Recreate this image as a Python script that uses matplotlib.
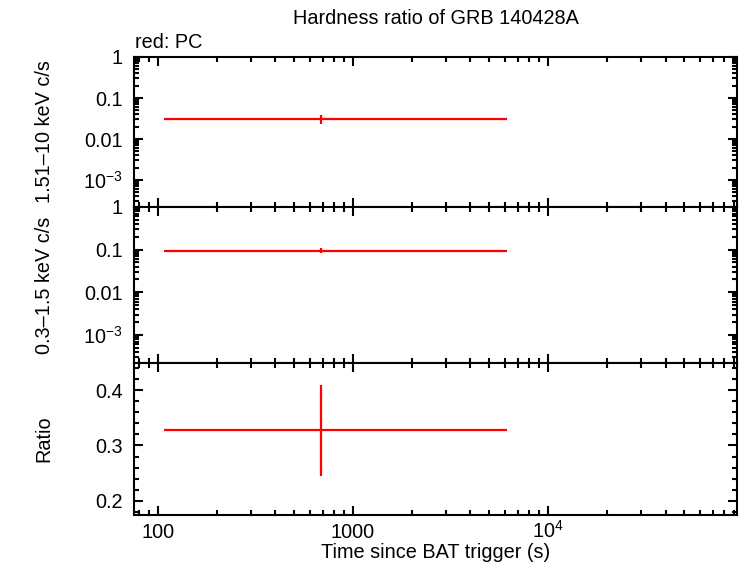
import matplotlib
matplotlib.use("Agg")
import matplotlib.pyplot as plt
from matplotlib.ticker import FixedLocator, NullFormatter, LogLocator
import numpy as np

plt.rcParams['font.family'] = ['Liberation Sans', 'DejaVu Sans']
plt.rcParams['mathtext.fontset'] = 'custom'
plt.rcParams['mathtext.rm'] = 'Liberation Sans'
plt.rcParams['mathtext.it'] = 'Liberation Sans'

# Data
t_center = [686.0]
t_lo = [107.0]
t_hi = [6140.0]
hard_rate = [0.0308]
hard_lo = [0.023]
hard_hi = [0.039]
soft_rate = [0.095]
soft_lo = [0.082]
soft_hi = [0.108]
ratio = [0.328]
ratio_lo = [0.244]
ratio_hi = [0.409]

title = "Hardness ratio of GRB 140428A"
xlabel = "Time since BAT trigger (s)"
ylabels = ["1.51\u201310 keV c/s", "0.3\u20131.5 keV c/s", "Ratio"]
xticks = [100, 1000, 10000]
xticklabels = ["100", "1000", r"$10^{4}$"]
log_yticks = [1, 0.1, 0.01, 0.001]
log_yticklabels = ["1", "0.1", "0.01", r"$10^{-3}$"]
ratio_yticks = [0.2, 0.3, 0.4]
ratio_yticklabels = ["0.2", "0.3", "0.4"]

W, H = 742, 566
fig = plt.figure(figsize=(W / 100, H / 100), dpi=100)

left = 134 / W
right = 737 / W
def ax_rect(top_px, bot_px):
    return [left, 1 - bot_px / H, right - left, (bot_px - top_px) / H]

ax1 = fig.add_axes(ax_rect(57, 207))
ax2 = fig.add_axes(ax_rect(207, 363))
ax3 = fig.add_axes(ax_rect(363, 514.7))

xmin, xmax = 75.4, 93000
red = '#ff0000'
fs = 14.3

def style(ax):
    ax.set_xscale('log')
    ax.set_xlim(xmin, xmax)
    for s in ax.spines.values():
        s.set_linewidth(1.5)
    ax.tick_params(which='both', direction='in', top=True, right=True,
                   width=1.5, labelsize=fs, pad=8)
    ax.tick_params(which='major', length=6.5)
    ax.tick_params(which='minor', length=3.6)
    ax.xaxis.set_major_locator(FixedLocator(xticks))
    ax.xaxis.set_minor_locator(LogLocator(base=10, subs=np.arange(2, 10), numticks=20))
    ax.xaxis.set_minor_formatter(NullFormatter())

def plot_series(ax, y, ylo, yhi):
    x = np.array(t_center)
    y = np.array(y)
    xerr = [x - np.array(t_lo), np.array(t_hi) - x]
    yerr = [y - np.array(ylo), np.array(yhi) - y]
    ax.errorbar(x, y, xerr=xerr, yerr=yerr, fmt='none', ecolor=red,
                elinewidth=1.6, capsize=0)

for ax, y, lo, hi in [(ax1, hard_rate, hard_lo, hard_hi),
                      (ax2, soft_rate, soft_lo, soft_hi)]:
    style(ax)
    ax.set_yscale('log')
    ax.set_ylim(2.2e-4, 1)
    ax.yaxis.set_major_locator(FixedLocator(log_yticks))
    ax.set_yticklabels(log_yticklabels)
    ax.yaxis.set_minor_locator(LogLocator(base=10, subs=np.arange(2, 10), numticks=20))
    ax.yaxis.set_minor_formatter(NullFormatter())
    ax.tick_params(axis='x', labelbottom=False)
    plot_series(ax, y, lo, hi)

style(ax3)
ax3.set_ylim(0.1746, 0.4495)
ax3.yaxis.set_major_locator(FixedLocator(ratio_yticks))
ax3.set_yticklabels(ratio_yticklabels)
ax3.yaxis.set_minor_locator(FixedLocator(np.arange(0.18, 0.45, 0.02)))
ax3.yaxis.set_minor_formatter(NullFormatter())
ax3.set_xticklabels(xticklabels)
ax3.tick_params(axis='x', pad=16.5)
for lbl in ax3.get_xticklabels():
    lbl.set_verticalalignment('baseline')
plot_series(ax3, ratio, ratio_lo, ratio_hi)
ax3.set_xlabel(xlabel, fontsize=fs, labelpad=1)

for ax, lab in zip([ax1, ax2, ax3], ylabels):
    ax.set_ylabel(lab, fontsize=fs)
    ax.yaxis.set_label_coords(-0.133, 0.5)

fig.text((left + right) / 2, 1 - 18 / H, title, ha='center', va='center', fontsize=fs)
fig.text(left + 1 / W, 1 - 42 / H, "red: PC", ha='left', va='center', fontsize=fs)

fig.savefig("out.png", dpi=100)
